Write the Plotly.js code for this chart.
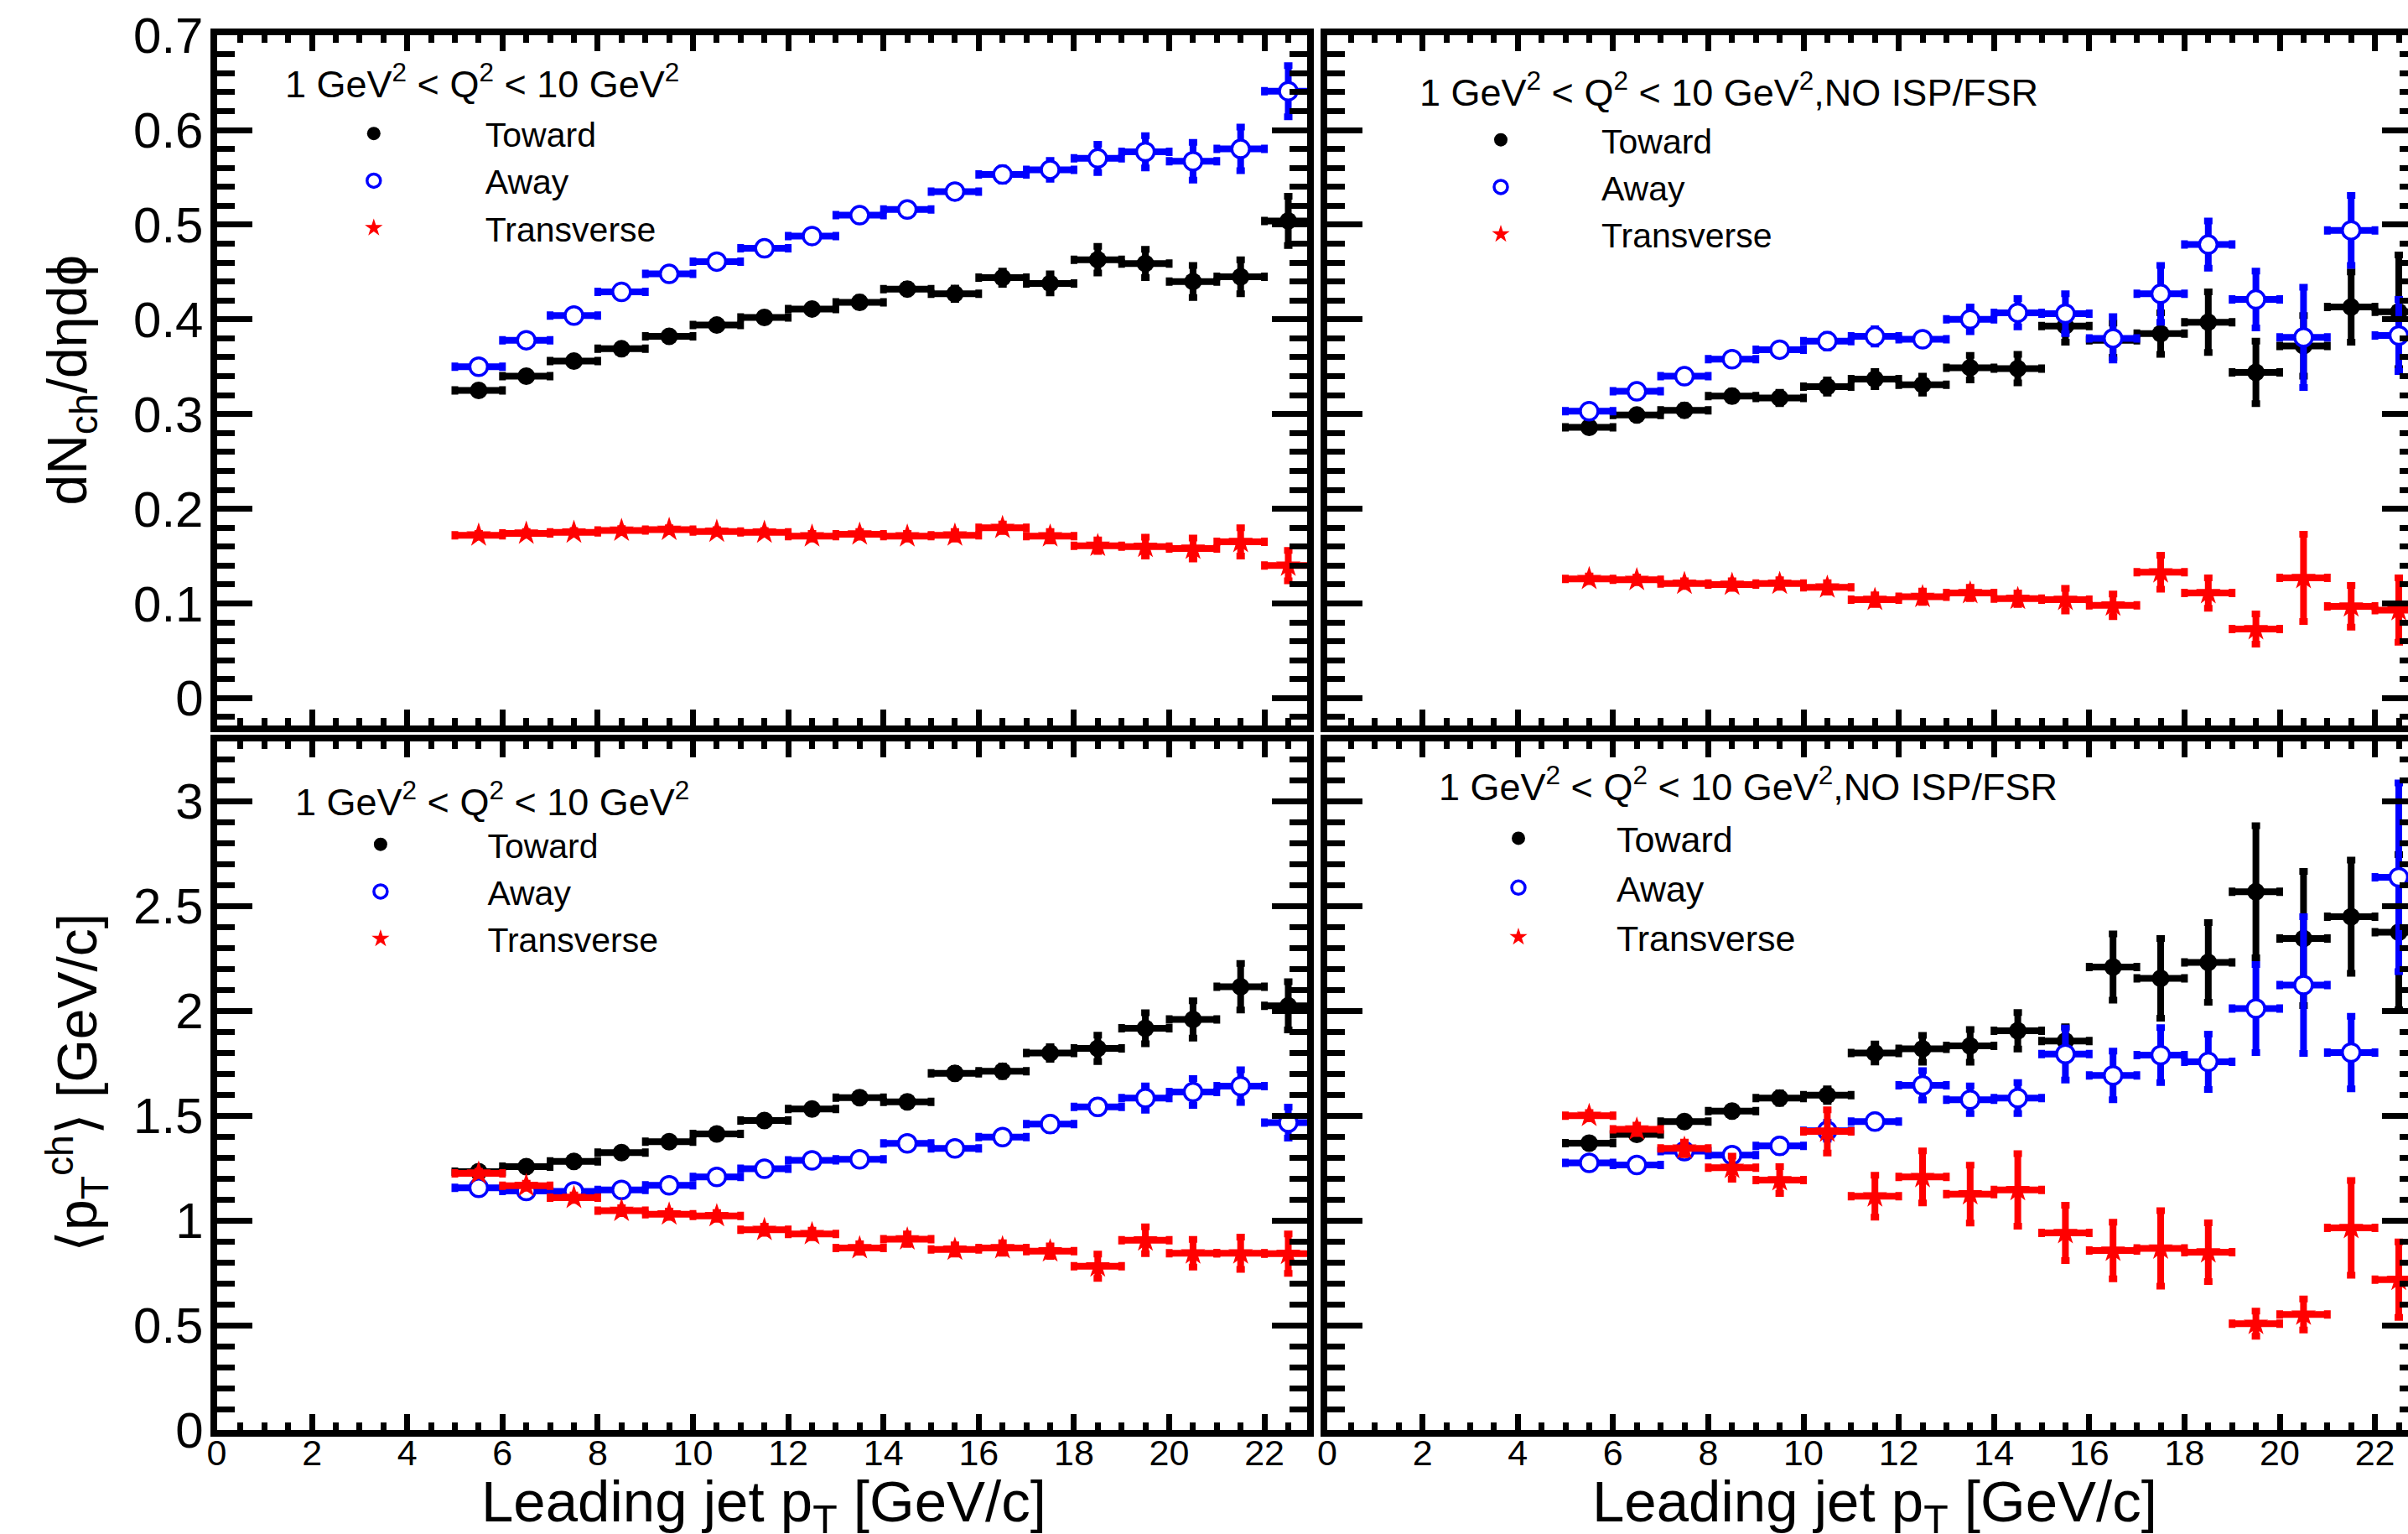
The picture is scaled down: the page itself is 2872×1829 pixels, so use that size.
<!DOCTYPE html>
<html><head><meta charset="utf-8">
<script src="https://cdn.plot.ly/plotly-3.0.1.min.js"></script>
<style>
html,body{margin:0;padding:0;background:#fff;overflow:hidden;}
#wrap{width:2872px;height:1829px;overflow:hidden;position:relative;}
#plot{width:2900px;height:1829px;}
</style>
</head><body><div id="wrap"><div id="plot"></div></div>
<script>
// ---------------- data ----------------
const binCenters = [5.5,6.5,7.5,8.5,9.5,10.5,11.5,12.5,13.5,14.5,15.5,16.5,17.5,18.5,19.5,20.5,21.5,22.5];
const binHalfWidth = 0.5;
const seriesNames = ["Toward","Away","Transverse"];
const headerQ2 = "1 GeV<sup>2</sup> < Q<sup>2</sup> < 10 GeV<sup>2</sup>";
const headerQ2NoISR = "1 GeV<sup>2</sup> < Q<sup>2</sup> < 10 GeV<sup>2</sup>,NO ISP/FSR";
const xTitle = "Leading jet p<sub>T</sub> [GeV/c]";
const yTitleTop = "dN<sub>ch</sub>/dηdϕ";
const yTitleBottom = "⟨p<sub>T</sub><sup>ch</sup>⟩ [GeV/c]";

// dN/deta dphi, 1<Q2<10
const towardDN = [0.325,0.340,0.356,0.369,0.382,0.394,0.402,0.411,0.418,0.432,0.427,0.444,0.438,0.463,0.459,0.440,0.445,0.504];
const towardDNErr = [0.003,0.003,0.003,0.003,0.003,0.004,0.004,0.004,0.005,0.005,0.006,0.007,0.010,0.014,0.015,0.017,0.018,0.026];
const awayDN = [0.350,0.378,0.404,0.429,0.448,0.461,0.475,0.488,0.510,0.516,0.535,0.553,0.558,0.570,0.577,0.567,0.580,0.641];
const awayDNErr = [0.003,0.003,0.003,0.003,0.004,0.004,0.004,0.005,0.005,0.006,0.006,0.007,0.010,0.015,0.017,0.020,0.023,0.027];
const transDN = [0.172,0.174,0.175,0.177,0.178,0.176,0.175,0.171,0.173,0.171,0.172,0.180,0.171,0.161,0.160,0.158,0.165,0.140];
const transDNErr = [0.002,0.002,0.002,0.002,0.002,0.002,0.002,0.003,0.003,0.003,0.004,0.004,0.005,0.006,0.010,0.011,0.015,0.016];

// dN/deta dphi, 1<Q2<10, no ISR/FSR
const towardDNNo = [0.286,0.299,0.304,0.319,0.317,0.329,0.337,0.331,0.349,0.348,0.393,0.378,0.385,0.397,0.344,0.372,0.413,0.408];
const towardDNNoErr = [0.004,0.004,0.005,0.005,0.006,0.007,0.008,0.009,0.013,0.015,0.017,0.018,0.022,0.032,0.033,0.032,0.037,0.060];
const awayDNNo = [0.303,0.324,0.340,0.358,0.368,0.377,0.382,0.379,0.400,0.407,0.406,0.380,0.427,0.479,0.421,0.381,0.494,0.383];
const awayDNNoErr = [0.004,0.004,0.005,0.005,0.006,0.007,0.008,0.006,0.013,0.015,0.021,0.023,0.030,0.025,0.030,0.053,0.037,0.038];
const transDNNo = [0.126,0.125,0.121,0.120,0.121,0.117,0.104,0.107,0.111,0.105,0.104,0.098,0.133,0.111,0.073,0.127,0.097,0.093];
const transDNNoErr = [0.003,0.003,0.003,0.004,0.004,0.005,0.005,0.006,0.006,0.006,0.012,0.012,0.018,0.016,0.016,0.046,0.022,0.034];

// <pT>, 1<Q2<10
const towardPT = [1.232,1.256,1.281,1.323,1.375,1.412,1.476,1.531,1.585,1.565,1.701,1.711,1.798,1.820,1.916,1.958,2.114,2.023];
const towardPTErr = [0.010,0.010,0.012,0.013,0.014,0.015,0.016,0.018,0.020,0.020,0.022,0.025,0.030,0.063,0.074,0.089,0.111,0.115];
const awayPT = [1.155,1.140,1.138,1.145,1.167,1.207,1.246,1.286,1.291,1.367,1.343,1.397,1.459,1.541,1.583,1.612,1.640,1.466];
const awayPTErr = [0.010,0.010,0.010,0.011,0.012,0.013,0.014,0.015,0.016,0.018,0.020,0.025,0.030,0.030,0.058,0.064,0.078,0.074];
const transPT = [1.224,1.165,1.108,1.046,1.029,1.021,0.955,0.935,0.868,0.910,0.861,0.868,0.853,0.781,0.905,0.843,0.843,0.841];
const transPTErr = [0.010,0.012,0.013,0.014,0.015,0.016,0.017,0.018,0.020,0.025,0.022,0.025,0.025,0.058,0.064,0.066,0.077,0.094];

// <pT>, 1<Q2<10, no ISR/FSR
const towardPTNo = [1.368,1.410,1.471,1.521,1.583,1.597,1.798,1.818,1.832,1.904,1.855,2.208,2.154,2.230,2.567,2.344,2.448,2.374];
const towardPTNoErr = [0.015,0.015,0.018,0.020,0.025,0.030,0.043,0.064,0.078,0.087,0.068,0.158,0.190,0.190,0.315,0.320,0.270,0.370];
const awayPTNo = [1.274,1.264,1.330,1.311,1.355,1.427,1.471,1.644,1.575,1.583,1.793,1.691,1.788,1.756,2.010,2.122,1.800,2.636];
const awayPTNoErr = [0.012,0.012,0.020,0.025,0.030,0.040,0.030,0.070,0.066,0.074,0.124,0.116,0.131,0.132,0.210,0.326,0.173,0.450];
const transPTNo = [1.499,1.434,1.343,1.251,1.192,1.424,1.115,1.207,1.125,1.145,0.940,0.856,0.866,0.848,0.507,0.551,0.964,0.717];
const transPTNoErr = [0.015,0.020,0.030,0.055,0.064,0.103,0.100,0.124,0.138,0.173,0.132,0.135,0.180,0.140,0.060,0.074,0.226,0.180];

// ---------------- layout helpers ----------------
const W = 2900, H = 1829;
const FONT = '"Liberation Sans", Arial, Helvetica, sans-serif';
const px = v => v / W;
const py = v => 1 - v / H;

const styles = {
  Toward: {marker:{symbol:'circle', size:21, color:'#000000'}, color:'#000000'},
  Away: {marker:{symbol:'circle', size:21, color:'#ffffff', line:{color:'#0000ff', width:3.5}}, color:'#0000ff'},
  Transverse: {marker:{symbol:'star', size:22, color:'#ff0000', line:{width:0}}, color:'#ff0000'}
};

function trace(name, y, err, xa, ya, leg) {
  const st = styles[name];
  return {
    type:'scatter', mode:'markers', name:name, x:binCenters, y:y,
    xaxis:xa, yaxis:ya, legend:leg,
    marker:st.marker,
    error_x:{type:'constant', value:binHalfWidth, color:st.color, thickness:8, width:5},
    error_y:{type:'data', array:err, visible:true, color:st.color, thickness:8, width:5},
    hoverinfo:'skip'
  };
}

const data = [
  trace('Toward', towardDN, towardDNErr, 'x', 'y', 'legend'),
  trace('Away', awayDN, awayDNErr, 'x', 'y', 'legend'),
  trace('Transverse', transDN, transDNErr, 'x', 'y', 'legend'),
  trace('Toward', towardDNNo, towardDNNoErr, 'x2', 'y2', 'legend2'),
  trace('Away', awayDNNo, awayDNNoErr, 'x2', 'y2', 'legend2'),
  trace('Transverse', transDNNo, transDNNoErr, 'x2', 'y2', 'legend2'),
  trace('Toward', towardPT, towardPTErr, 'x3', 'y3', 'legend3'),
  trace('Away', awayPT, awayPTErr, 'x3', 'y3', 'legend3'),
  trace('Transverse', transPT, transPTErr, 'x3', 'y3', 'legend3'),
  trace('Toward', towardPTNo, towardPTNoErr, 'x4', 'y4', 'legend4'),
  trace('Away', awayPTNo, awayPTNoErr, 'x4', 'y4', 'legend4'),
  trace('Transverse', transPTNo, transPTNoErr, 'x4', 'y4', 'legend4')
];

// plot-area pixel boxes (inner edges of the frames)
const LEFT = [258.5, 1559], RIGHT = [1583, 2883];
const TOP = [42.1, 865], BOT = [884, 1705];
const PX_PER_X = 56.8;            // px per GeV/c
const xMaxL = (LEFT[1] - LEFT[0]) / PX_PER_X;
const xMaxR = (RIGHT[1] - RIGHT[0]) / PX_PER_X;
const PX_PER_DN = 1129;           // px per unit of dN/deta dphi
const dnMin = 0.7 - (TOP[1] - TOP[0]) / PX_PER_DN;
const PX_PER_PT = 250;            // px per GeV/c of <pT>
const ptMax = (BOT[1] - BOT[0]) / PX_PER_PT;

function xax(dom, anchor, labels, xmax) {
  return {
    domain:[px(dom[0]), px(dom[1])], anchor:anchor, range:[0, xmax], autorange:false,
    tick0:0, dtick:2, ticks:'inside', ticklen:19, tickwidth:7, tickcolor:'#000',
    showline:true, linewidth:8, linecolor:'#000', mirror:'allticks',
    showgrid:false, zeroline:false, showticklabels:labels,
    ticklabelstandoff:-18,
    tickfont:{family:FONT, size:43, color:'#000'},
    minor:{dtick:0.5, tick0:0, ticks:'inside', ticklen:9, tickwidth:7, tickcolor:'#000', showgrid:false},
    fixedrange:true
  };
}
function yax(dom, anchor, rng, dt, mdt, labels) {
  return {
    domain:[py(dom[1]), py(dom[0])], anchor:anchor, range:rng, autorange:false,
    tick0:0, dtick:dt, ticks:'inside', ticklen:42, tickwidth:7, tickcolor:'#000',
    showline:true, linewidth:8, linecolor:'#000', mirror:'allticks',
    showgrid:false, zeroline:false, showticklabels:labels,
    ticklabelstandoff:-4,
    tickfont:{family:FONT, size:60, color:'#000'},
    minor:{dtick:mdt, tick0:0, ticks:'inside', ticklen:21, tickwidth:7, tickcolor:'#000', showgrid:false},
    fixedrange:true
  };
}

function legend(left, top, itemw, fs) {
  return {x:px(left), y:py(top), xanchor:'left', yanchor:'top', xref:'paper', yref:'paper',
    itemwidth:itemw, bgcolor:'rgba(0,0,0,0)', borderwidth:0, tracegroupgap:0,
    font:{family:FONT, size:fs, color:'#000'}, itemclick:false, itemdoubleclick:false};
}

function ann(text, x, y, size, opts) {
  return Object.assign({text:text, x:px(x), y:py(y), xref:'paper', yref:'paper', showarrow:false,
    font:{family:FONT, size:size, color:'#000'}}, opts || {});
}

const layout = {
  width:W, height:H, margin:{l:0, r:0, t:0, b:0},
  paper_bgcolor:'#fff', plot_bgcolor:'#fff', showlegend:true,
  font:{family:FONT, color:'#000'},
  xaxis: xax(LEFT, 'y', false, xMaxL),
  xaxis2: xax(RIGHT, 'y2', false, xMaxR),
  xaxis3: xax(LEFT, 'y3', true, xMaxL),
  xaxis4: xax(RIGHT, 'y4', true, xMaxR),
  yaxis: yax(TOP, 'x', [dnMin, 0.7], 0.1, 0.02, true),
  yaxis2: yax(TOP, 'x2', [dnMin, 0.7], 0.1, 0.02, false),
  yaxis3: yax(BOT, 'x3', [0, ptMax], 0.5, 0.1, true),
  yaxis4: yax(BOT, 'x4', [0, ptMax], 0.5, 0.1, false),
  legend: legend(312.8, 126, 256, 41),
  legend2: legend(1670, 133.5, 230, 41),
  legend3: legend(326.4, 973.5, 245, 41),
  legend4: legend(1694, 965, 224, 43),
  annotations: [
    ann(headerQ2, 337.5, 97, 45, {xanchor:'left', yanchor:'middle'}),
    ann(headerQ2NoISR, 1691, 107, 45, {xanchor:'left', yanchor:'middle'}),
    ann(headerQ2, 350, 953, 45, {xanchor:'left', yanchor:'middle'}),
    ann(headerQ2NoISR, 1714, 935, 45, {xanchor:'left', yanchor:'middle'}),
    ann(yTitleTop, 85, 453.5, 66, {textangle:-90, xanchor:'center', yanchor:'middle'}),
    ann(yTitleBottom, 92, 1291, 66, {textangle:-90, xanchor:'center', yanchor:'middle'}),
    ann(xTitle, 911, 1795, 69, {xanchor:'center', yanchor:'middle'}),
    ann(xTitle, 2236, 1795, 69, {xanchor:'center', yanchor:'middle'})
  ]
};

Plotly.newPlot('plot', data, layout, {displayModeBar:false, staticPlot:true});
</script>
</body></html>
